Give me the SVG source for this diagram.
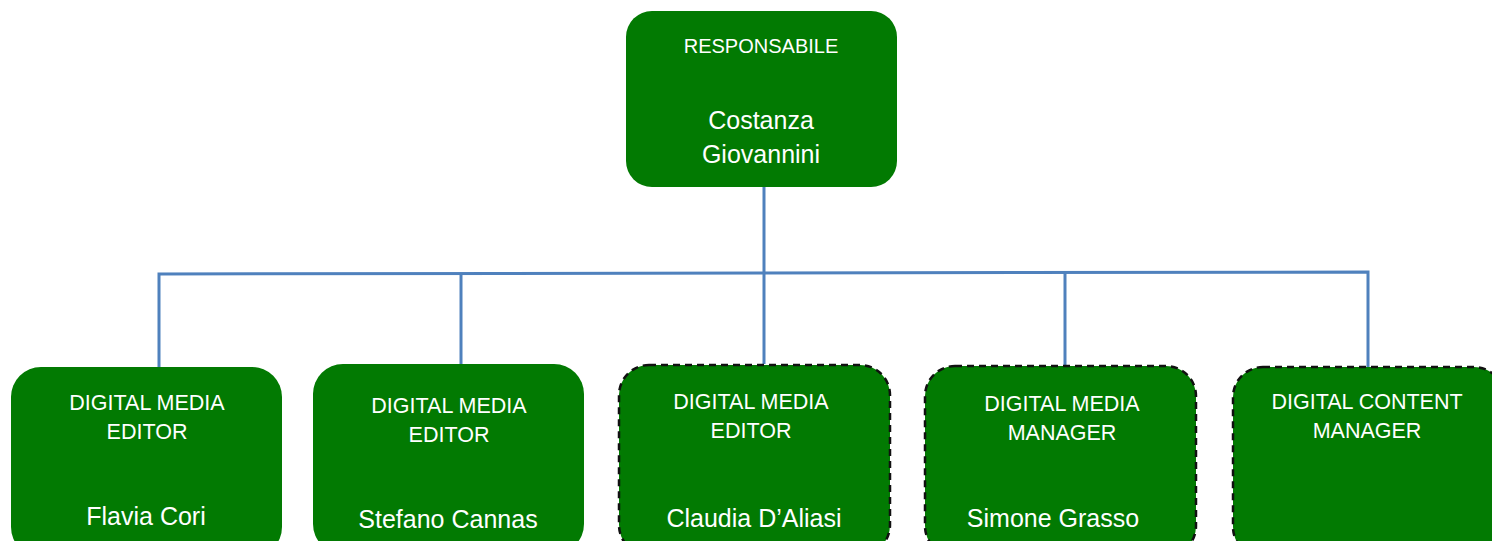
<svg xmlns="http://www.w3.org/2000/svg" width="1492" height="541" viewBox="0 0 1492 541">
<style>
.box{fill:#027a02;}
.dash{stroke:#111;stroke-width:2.5;stroke-dasharray:7 5;}
.t{font-family:"Liberation Sans",Arial,sans-serif;font-size:21.5px;fill:#fff;text-anchor:middle;}
.r{font-family:"Liberation Sans",Arial,sans-serif;font-size:20px;fill:#fff;text-anchor:middle;}
.n{font-family:"Liberation Sans",Arial,sans-serif;font-size:25px;fill:#fff;text-anchor:middle;}
.c{stroke:#4f81bd;stroke-width:3;fill:none;}
</style>
<rect width="1492" height="541" fill="#fff"/>
<g id="connectors">
<path class="c" d="M764 187 V274"/>
<path class="c" d="M159 367 V274 L1368 272 V367"/>
<path class="c" d="M461 274 V364"/>
<path class="c" d="M764 274 V364"/>
<path class="c" d="M1065 273 V366"/>
</g>
<g id="responsabile">
<rect class="box" x="626" y="11" width="271" height="176" rx="26"/>
<text class="r" x="761" y="53">RESPONSABILE</text>
<text class="n" x="761" y="129">Costanza</text>
<text class="n" x="761" y="163">Giovannini</text>
</g>
<g id="editor1">
<rect class="box" x="11" y="367" width="271" height="190" rx="30"/>
<text class="t" x="147" y="410">DIGITAL MEDIA</text>
<text class="t" x="147" y="439">EDITOR</text>
<text class="n" x="146" y="525">Flavia Cori</text>
</g>
<g id="editor2">
<rect class="box" x="313" y="364" width="271" height="190" rx="30"/>
<text class="t" x="449" y="413">DIGITAL MEDIA</text>
<text class="t" x="449" y="442">EDITOR</text>
<text class="n" x="448" y="528">Stefano Cannas</text>
</g>
<g id="editor3">
<rect class="box dash" x="619" y="365" width="271" height="190" rx="30"/>
<text class="t" x="751" y="409">DIGITAL MEDIA</text>
<text class="t" x="751" y="438">EDITOR</text>
<text class="n" x="754" y="527">Claudia D’Aliasi</text>
</g>
<g id="manager">
<rect class="box dash" x="925" y="366" width="271" height="190" rx="30"/>
<text class="t" x="1062" y="411">DIGITAL MEDIA</text>
<text class="t" x="1062" y="440">MANAGER</text>
<text class="n" x="1053" y="527">Simone Grasso</text>
</g>
<g id="content">
<rect class="box dash" x="1233" y="367" width="271" height="190" rx="30"/>
<text class="t" x="1367" y="409">DIGITAL CONTENT</text>
<text class="t" x="1367" y="438">MANAGER</text>
</g>
</svg>
